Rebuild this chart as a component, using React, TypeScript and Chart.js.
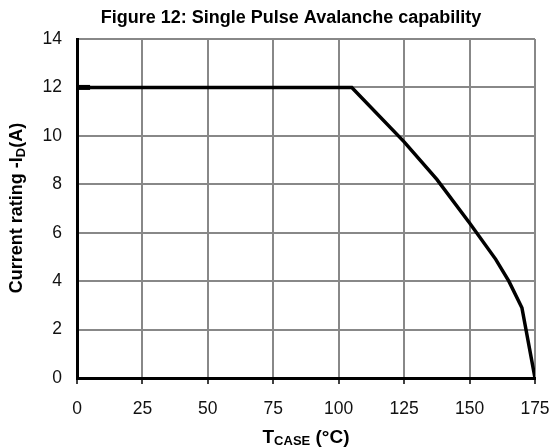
import React, { useEffect, useRef } from "react";
import { Chart, registerables } from "chart.js";

Chart.register(...registerables);

const TITLE = "Figure 12: Single Pulse Avalanche capability";
const tempC = [0, 105, 125, 137.5, 150, 160, 165, 170, 175];
const currentA = [12, 12, 9.75, 8.2, 6.4, 4.9, 4.0, 2.9, 0];
const markerX = [0, 5];
const markerY = [12, 12];
const xTicks = [0, 25, 50, 75, 100, 125, 150, 175];
const yTicks = [0, 2, 4, 6, 8, 10, 12, 14];

const FONT = "'Liberation Sans', Arial, sans-serif";

const labelsPlugin = {
  id: "labels",
  afterDraw(chart: any) {
    const ctx = chart.ctx as CanvasRenderingContext2D;
    ctx.save();
    ctx.fillStyle = "#000";
    // title
    ctx.font = `bold 18px ${FONT}`;
    ctx.textAlign = "center";
    ctx.textBaseline = "alphabetic";
    ctx.fillText(TITLE, 291, 23);

    // x label: T_CASE (°C)
    const big = `bold 19px ${FONT}`;
    const small = `bold 13px ${FONT}`;
    ctx.textAlign = "left";
    const parts: [string, string, number][] = [
      ["T", big, 0],
      ["CASE", small, 2],
      [" (°C)", big, 0],
    ];
    let total = 0;
    for (const [t, f] of parts) {
      ctx.font = f;
      total += ctx.measureText(t).width;
    }
    let x = 306 - total / 2;
    const baseY = 443;
    for (const [t, f, dy] of parts) {
      ctx.font = f;
      ctx.fillText(t, x, baseY + dy);
      x += ctx.measureText(t).width;
    }

    // y label: Current rating -I_D(A)
    ctx.translate(22, 208);
    ctx.rotate(-Math.PI / 2);
    const ybig = `bold 18px ${FONT}`;
    const ysmall = `bold 13px ${FONT}`;
    const yparts: [string, string, number][] = [
      ["Current rating -I", ybig, 0],
      ["D", ysmall, 3],
      ["(A)", ybig, 0],
    ];
    total = 0;
    for (const [t, f] of yparts) {
      ctx.font = f;
      total += ctx.measureText(t).width;
    }
    x = -total / 2;
    for (const [t, f, dy] of yparts) {
      ctx.font = f;
      ctx.fillText(t, x, dy);
      x += ctx.measureText(t).width;
    }
    ctx.restore();
  },
};

export default function App() {
  const ref = useRef<HTMLCanvasElement>(null);
  useEffect(() => {
    document.body.style.margin = "0";
    const chart = new Chart(ref.current!, {
      type: "line",
      data: {
        datasets: [
          {
            data: tempC.map((t, i) => ({ x: t, y: currentA[i] })),
            borderColor: "#000",
            borderWidth: 3.5,
            pointRadius: 0,
            tension: 0,
            fill: false,
          },
          {
            data: markerX.map((t, i) => ({ x: t, y: markerY[i] })),
            borderColor: "#000",
            borderWidth: 5,
            pointRadius: 0,
            fill: false,
          },
        ],
      },
      options: {
        animation: false,
        responsive: false,
        layout: { padding: { left: 30, right: 16, top: 39, bottom: 25 } },
        plugins: {
          legend: { display: false },
          title: { display: false },
          tooltip: { enabled: false },
        },
        scales: {
          x: {
            type: "linear",
            min: 0,
            max: 175,
            afterBuildTicks: (s: any) => {
              s.ticks = xTicks.map((v) => ({ value: v }));
            },
            afterFit: (s: any) => {
              s.height = 45;
              s.paddingLeft = 0;
              s.paddingRight = 0;
            },
            ticks: {
              color: "#111",
              font: { family: FONT, size: 17.5 },
              padding: 15,
              maxRotation: 0,
            },
            grid: {
              color: "#888",
              lineWidth: 2,
              drawTicks: true,
              tickLength: 6,
              tickColor: "#000",
              tickWidth: 1.5,
            },
            border: { color: "#000", width: 3 },
          },
          y: {
            min: 0,
            max: 14,
            afterBuildTicks: (s: any) => {
              s.ticks = yTicks.map((v) => ({ value: v }));
            },
            afterFit: (s: any) => {
              s.width = 47;
              s.paddingTop = 0;
              s.paddingBottom = 0;
            },
            ticks: {
              color: "#111",
              font: { family: FONT, size: 17.5 },
              padding: 15,
            },
            grid: {
              color: "#888",
              lineWidth: 2,
              drawTicks: false,
            },
            border: { color: "#000", width: 3 },
          },
        },
      },
      plugins: [labelsPlugin],
    });
    return () => chart.destroy();
  }, []);
  return <canvas ref={ref} width={551} height={448} />;
}
